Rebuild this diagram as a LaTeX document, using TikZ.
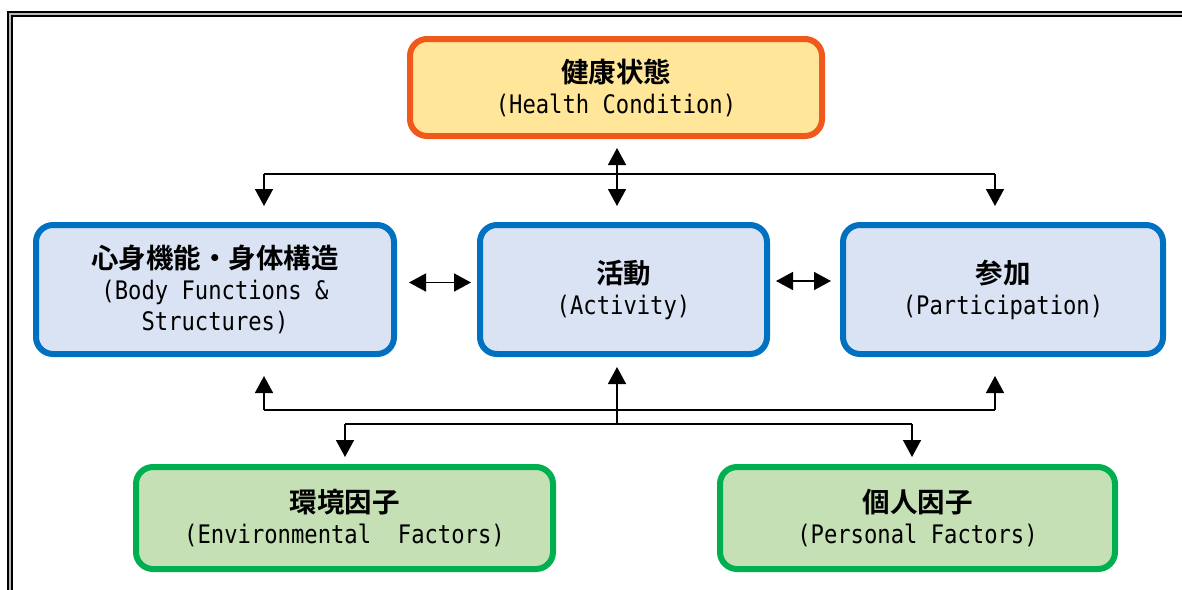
\documentclass[tikz,border=0pt]{standalone}
\usepackage{fontspec}
\usetikzlibrary{arrows.meta}
\newfontfamily\cjk[BoldFont={Noto Sans CJK JP Bold}]{Noto Sans CJK JP}
\setmonofont[FakeStretch=0.87]{DejaVu Sans Mono}
\definecolor{hcline}{RGB}{240,88,28}
\definecolor{hcfill}{RGB}{255,230,153}
\definecolor{bline}{RGB}{0,112,192}
\definecolor{bfill}{RGB}{218,227,243}
\definecolor{gline}{RGB}{0,176,80}
\definecolor{gfill}{RGB}{197,224,180}
\newcommand{\jp}[1]{{\cjk\bfseries\fontsize{27.5}{31}\selectfont #1}}
\tikzset{
  box/.style={rounded corners=17pt, line width=6pt, align=center, inner sep=0pt,
    font=\fontsize{25.5}{31}\selectfont\ttfamily},
  hcbox/.style={box, draw=hcline, fill=hcfill},
  bbox/.style={box, draw=bline, fill=bfill},
  gbox/.style={box, draw=gline, fill=gfill},
  conn/.style={line width=1.6pt, black},
  arr/.style={conn, -{Triangle[width=18pt,length=17pt]}},
  darr/.style={conn, {Triangle[width=18pt,length=17pt]}-{Triangle[width=18pt,length=17pt]}},
}
\begin{document}
\begin{tikzpicture}[x=1pt,y=-1pt]
\useasboundingbox (0,0) rectangle (1182,589);
\begin{scope}
\clip (0,0) rectangle (1182,589);
\draw[line width=1.6pt, double=gray!55, double distance=2.4pt] (10,14) rectangle (1220,640);
\end{scope}
% boxes
\node[hcbox, minimum width=412pt, minimum height=97pt] (hc) at (616,87.5)
  {\jp{健康状態}\\(Health Condition)};
\node[bbox, minimum width=358pt, minimum height=129pt] (body) at (215,289.5)
  {\jp{心身機能・身体構造}\\(Body Functions \&\\Structures)};
\node[bbox, minimum width=287pt, minimum height=129pt] (act) at (623.5,289.5)
  {\jp{活動}\\(Activity)};
\node[bbox, minimum width=320pt, minimum height=129pt] (par) at (1003,289.5)
  {\jp{参加}\\(Participation)};
\node[gbox, minimum width=417pt, minimum height=102pt] (env) at (344.5,518)
  {\jp{環境因子}\\(Environmental\ \ Factors)};
\node[gbox, minimum width=395pt, minimum height=102pt] (pers) at (917.5,518)
  {\jp{個人因子}\\(Personal Factors)};
% top connectors
\coordinate (hcs) at (617,148);
\coordinate (acn) at (617,206);
\coordinate (tl) at (264,174);
\coordinate (tr) at (995,174);
\coordinate (bn) at (264,206);
\coordinate (pn) at (995,206);
\draw[darr] (hcs) -- (acn);
\draw[conn] (tl) -- (tr);
\draw[arr] (tl) -- (bn);
\draw[arr] (tr) -- (pn);
% horizontal connectors
\coordinate (b1) at (409,282.5);
\coordinate (a1) at (471,282.5);
\coordinate (a2) at (776,281);
\coordinate (p2) at (831,281);
\draw[darr] (b1) -- (a1);
\draw[darr] (a2) -- (p2);
% bottom connectors
\coordinate (ul) at (264,410);
\coordinate (ur) at (995,410);
\coordinate (um) at (617,410);
\coordinate (bs) at (264,376);
\coordinate (as) at (617,367);
\coordinate (ps) at (995,376);
\coordinate (dm) at (617,424);
\coordinate (dl) at (345,424);
\coordinate (dr) at (912,424);
\coordinate (en) at (345,457);
\coordinate (pen) at (912,457);
\draw[arr] (ul) -- (bs);
\draw[arr] (ur) -- (ps);
\draw[arr] (dm) -- (as);
\draw[conn] (ul) -- (ur);
\draw[conn] (dl) -- (dr);
\draw[arr] (dl) -- (en);
\draw[arr] (dr) -- (pen);
\end{tikzpicture}
\end{document}
